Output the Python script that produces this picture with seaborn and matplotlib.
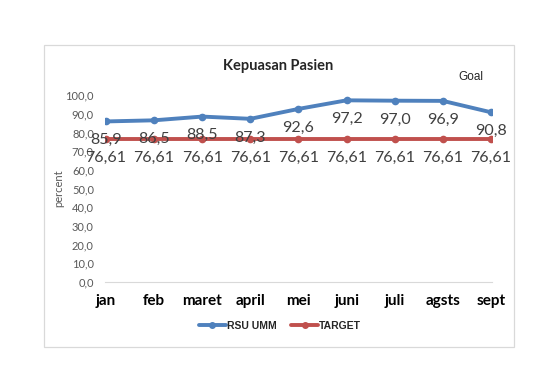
import matplotlib
matplotlib.use("Agg")
import matplotlib.pyplot as plt
import matplotlib.patches as mpatches
from matplotlib.ticker import FuncFormatter
import pandas as pd
import seaborn as sns

months = ["jan", "feb", "maret", "april", "mei", "juni", "juli", "agsts", "sept"]
rsu_umm = [85.9, 86.5, 88.5, 87.3, 92.6, 97.2, 97.0, 96.9, 90.8]
target = [76.61] * 9

BLUE = "#4F81BD"
RED = "#C0504D"
GRAY = "#595959"


def comma(v, nd):
    return f"{v:.{nd}f}".replace(".", ",")


def main():
    sns.set_style("white")
    plt.rcParams["font.family"] = ["Lato", "DejaVu Sans"]

    df = pd.DataFrame({
        "month": months * 2,
        "value": rsu_umm + target,
        "series": ["RSU UMM"] * len(months) + ["TARGET"] * len(months),
    })

    fig = plt.figure(figsize=(5.6, 3.7), dpi=100)
    ax = fig.add_axes([0.1875, 0.238, 0.691, 0.505])

    sns.lineplot(data=df, x="month", y="value", hue="series",
                 palette={"RSU UMM": BLUE, "TARGET": RED},
                 marker="o", markersize=5.5, markeredgewidth=0,
                 linewidth=2.8, sort=False, legend=False, ax=ax)

    for i, (b, t) in enumerate(zip(rsu_umm, target)):
        ax.annotate(comma(b, 1), (i, b), xytext=(0, -13.5), textcoords="offset points",
                    ha="center", va="center", fontsize=11.5, color="#404040")
        ax.annotate(comma(t, 2), (i, t), xytext=(0, -13.5), textcoords="offset points",
                    ha="center", va="center", fontsize=11.5, color="#404040")

    ax.set_ylim(0, 100)
    ax.set_xlim(-0.02, len(months) - 0.98)
    ax.set_yticks(range(0, 101, 10))
    ax.yaxis.set_major_formatter(FuncFormatter(lambda v, _: comma(v, 1)))
    ax.tick_params(axis="y", length=0, pad=8, labelsize=8, labelcolor=GRAY)
    ax.tick_params(axis="x", length=0, pad=9)
    for lab in ax.get_xticklabels():
        lab.set_fontweight("bold")
        lab.set_fontsize(11)
        lab.set_color("black")

    for side in ["top", "left", "right"]:
        ax.spines[side].set_visible(False)
    ax.spines["bottom"].set_color("#d9d9d9")
    ax.spines["bottom"].set_linewidth(0.8)

    ax.set_xlabel("")
    ax.set_ylabel("percent", fontsize=8, color=GRAY)
    ax.yaxis.set_label_coords(-0.106, 0.5)

    fig.text(278 / 560, 1 - 66 / 370, "Kepuasan Pasien", ha="center", va="center",
             fontsize=10.5, fontweight="bold")
    fig.text(471 / 560, 1 - 77 / 370, "Goal", ha="center", va="center",
             fontsize=8.5, family=["Liberation Sans", "DejaVu Sans"])

    handles = [
        plt.Line2D([], [], color=BLUE, lw=2.8, marker="o", markersize=4),
        plt.Line2D([], [], color=RED, lw=2.8, marker="o", markersize=4),
    ]
    fig.legend(handles, ["RSU UMM", "TARGET"], loc="center",
               bbox_to_anchor=(280 / 560, 1 - 326 / 370), ncol=2,
               frameon=False, handlelength=2.6,
               handletextpad=0.1, columnspacing=1.4,
               prop={"family": ["Liberation Sans", "DejaVu Sans"], "size": 7.5, "weight": "bold"})

    frame = mpatches.Rectangle((44 / 560, 1 - 347 / 370), 470 / 560, 302 / 370,
                               transform=fig.transFigure, fill=False,
                               edgecolor="#d9d9d9", linewidth=0.9)
    fig.patches.append(frame)

    fig.savefig("out.png", dpi=100)
    plt.close(fig)


if __name__ == "__main__":
    main()
